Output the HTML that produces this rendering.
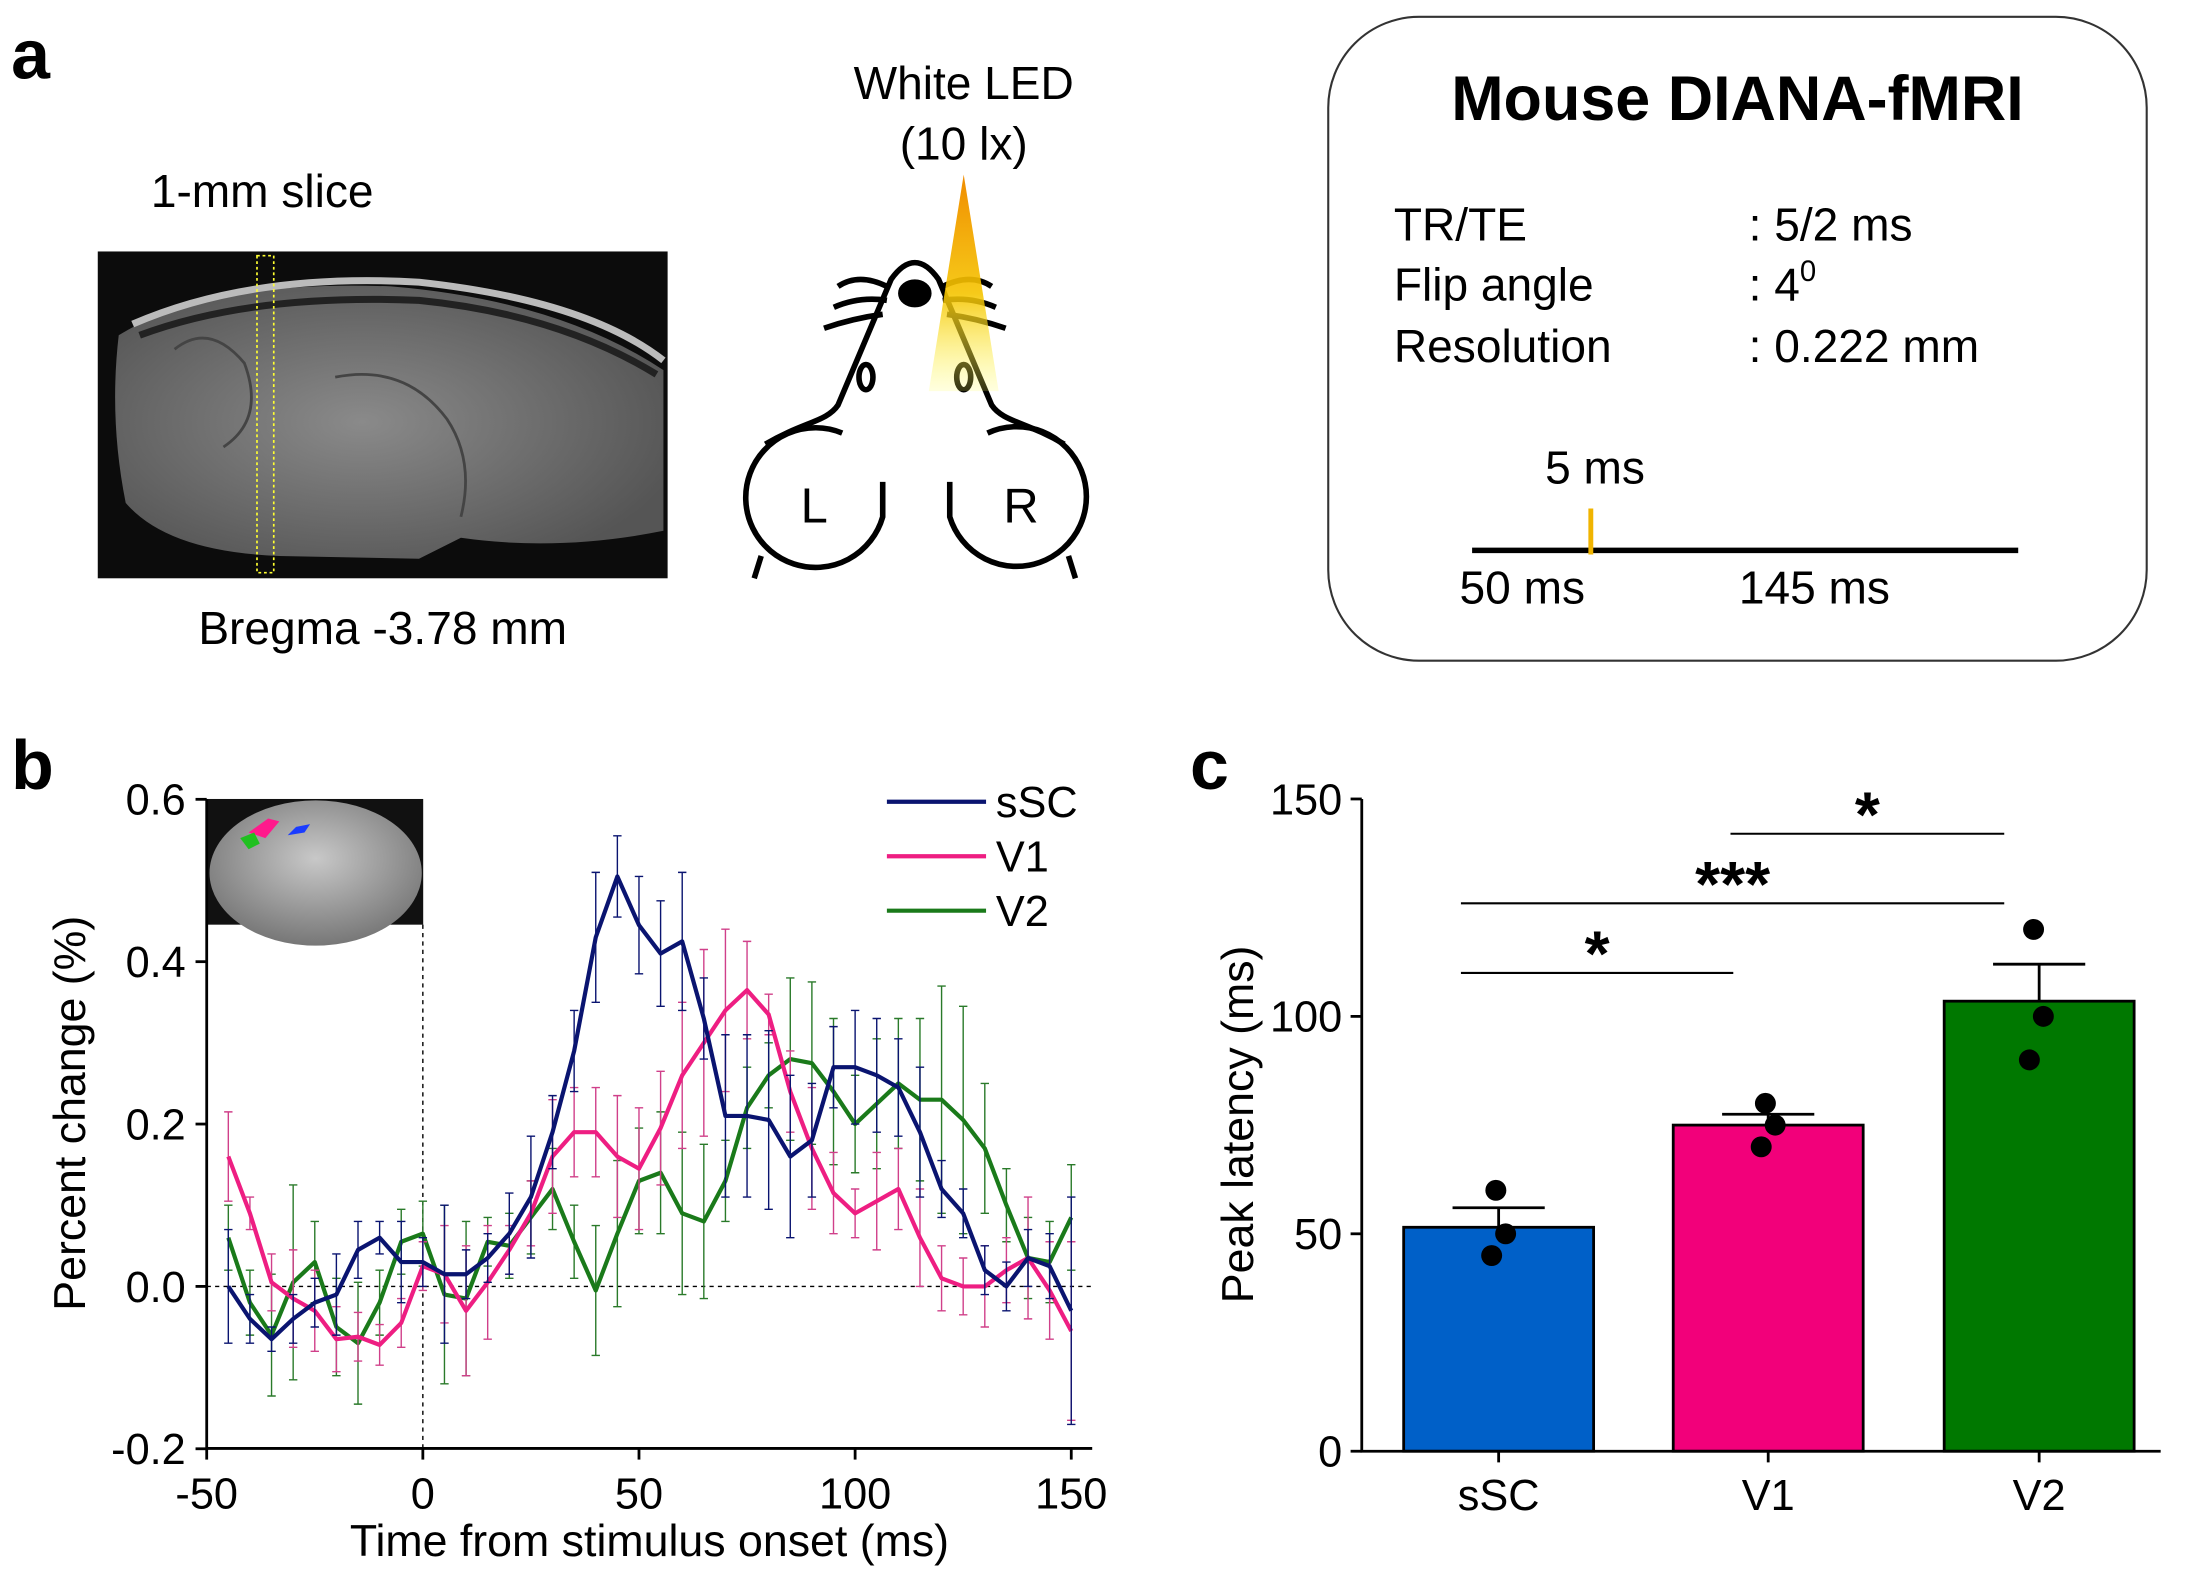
<!DOCTYPE html>
<html><head><meta charset="utf-8"><style>
html,body{margin:0;padding:0;background:#fff;}
svg{display:block;font-family:"Liberation Sans",Arial,sans-serif;}
</style></head><body>
<svg id="fig" width="2190" height="1570" viewBox="0 0 1568 1124">
<defs>
<linearGradient id="cone" x1="0" y1="0" x2="0" y2="1"><stop offset="0" stop-color="#f08c00"/><stop offset="0.55" stop-color="#f5c400" stop-opacity="0.9"/><stop offset="1" stop-color="#ffff60" stop-opacity="0.2"/></linearGradient>
<radialGradient id="brain" cx="0.45" cy="0.5" r="0.6"><stop offset="0" stop-color="#8a8a8a"/><stop offset="1" stop-color="#555"/></radialGradient>
<radialGradient id="inset" cx="0.5" cy="0.4" r="0.6"><stop offset="0" stop-color="#c8c8c8"/><stop offset="1" stop-color="#777"/></radialGradient>
</defs>
<!-- Panel a -->
<text x="8" y="56" font-size="50" font-weight="bold">a</text>
<text x="108" y="148" font-size="33">1-mm slice</text>
<g>
<rect x="70" y="180" width="408" height="234" fill="#0c0c0c"/>
<path d="M85,240 Q150,200 280,205 Q400,215 475,265 L475,380 Q400,395 330,385 L300,400 L200,398 Q120,395 90,360 Q78,300 85,240 Z" fill="url(#brain)"/>
<path d="M95,232 Q180,195 300,202 Q420,215 475,258" stroke="#bbb" stroke-width="5" fill="none"/>
<path d="M100,240 Q180,210 300,215 Q400,225 470,268" stroke="#222" stroke-width="5" fill="none"/>
<path d="M125,250 Q150,230 175,260 Q190,300 160,320" stroke="#444" stroke-width="2" fill="none"/>
<path d="M240,270 Q290,260 320,300 Q340,330 330,370" stroke="#444" stroke-width="2" fill="none"/>
<rect x="184" y="183" width="12" height="227" fill="none" stroke="#ffff30" stroke-width="1.2" stroke-dasharray="2,2"/>
</g>
<text x="274" y="461" font-size="33" text-anchor="middle">Bregma -3.78 mm</text>
<text x="690" y="71" font-size="33" text-anchor="middle">White LED</text>
<text x="690" y="114" font-size="33" text-anchor="middle">(10 lx)</text>
<g fill="none" stroke="#000" stroke-width="4">
<path d="M548,318 C575,302 592,302 600,290 L638,200 Q655,176 672,200 L710,290 C718,302 735,302 762,318"/>
<path d="M632,345 L632,370 A50,50 0 1 1 603,310"/>
<path d="M680,345 L680,370 A50,50 0 1 0 707,310"/>
<path d="M545,398 L540,414 M765,398 L770,414"/>
<path d="M600,205 Q615,195 635,205 M597,220 Q615,212 635,215 M590,235 Q610,228 632,225"/>
<path d="M710,205 Q695,195 675,205 M713,220 Q695,212 675,215 M720,235 Q700,228 678,225"/>
<ellipse cx="655" cy="210" rx="10" ry="8" fill="#000"/>
<ellipse cx="620" cy="270" rx="5" ry="9" stroke-width="4"/>
<ellipse cx="690" cy="270" rx="5" ry="9" stroke-width="4"/>
</g>
<polygon points="690,125 665,280 715,280" fill="url(#cone)"/>
<text x="583" y="374" font-size="35" text-anchor="middle">L</text>
<text x="731" y="374" font-size="35" text-anchor="middle">R</text>
<g>
<rect x="951" y="12" width="586" height="461" rx="65" fill="#fff" stroke="#333" stroke-width="1.5"/>
<text x="1244" y="86" font-size="45" font-weight="bold" text-anchor="middle">Mouse DIANA-fMRI</text>
<g font-size="33">
<text x="998" y="172">TR/TE</text>
<text x="1252" y="172">: 5/2 ms</text>
<text x="998" y="215">Flip angle</text>
<text x="1252" y="215">: 4<tspan font-size="21" dy="-14">0</tspan></text>
<text x="998" y="259">Resolution</text>
<text x="1252" y="259">: 0.222 mm</text>
<text x="1142" y="346" text-anchor="middle">5 ms</text>
<text x="1045" y="432">50 ms</text>
<text x="1245" y="432">145 ms</text>
</g>
<line x1="1054" y1="394" x2="1445" y2="394" stroke="#000" stroke-width="4"/>
<line x1="1139" y1="364" x2="1139" y2="397" stroke="#f0b400" stroke-width="3.5"/>
</g>
<!-- Panel b -->
<text x="8" y="565" font-size="50" font-weight="bold">b</text>
<g id="chartB"></g>
<!-- Panel c -->
<text x="852" y="565" font-size="50" font-weight="bold">c</text>
<g id="chartC"></g>
</svg>
<script>
const NS='http://www.w3.org/2000/svg';
// ---- Panel b data ----
const times=[-45,-40,-35,-30,-25,-20,-15,-10,-5,0,5,10,15,20,25,30,35,40,45,50,55,60,65,70,75,80,85,90,95,100,105,110,115,120,125,130,135,140,145,150];
const sscVals=[0.0,-0.04,-0.065,-0.04,-0.02,-0.01,0.045,0.06,0.03,0.03,0.015,0.015,0.035,0.065,0.11,0.19,0.29,0.43,0.505,0.445,0.41,0.425,0.33,0.21,0.21,0.205,0.16,0.18,0.27,0.27,0.26,0.245,0.19,0.12,0.09,0.02,0.0,0.035,0.025,-0.03];
const sscErr=[0.07,0.03,0.015,0.03,0.03,0.05,0.035,0.02,0.05,0.03,0.085,0.03,0.03,0.05,0.075,0.045,0.05,0.08,0.05,0.06,0.065,0.085,0.05,0.1,0.1,0.11,0.1,0.07,0.05,0.07,0.07,0.06,0.08,0.035,0.03,0.03,0.03,0.035,0.04,0.14];
const v1Vals=[0.16,0.09,0.005,-0.015,-0.03,-0.065,-0.062,-0.072,-0.045,0.025,0.015,-0.03,0.005,0.045,0.09,0.16,0.19,0.19,0.16,0.145,0.195,0.26,0.3,0.34,0.365,0.335,0.24,0.17,0.115,0.09,0.105,0.12,0.06,0.01,0.0,0.0,0.02,0.035,-0.005,-0.055];
const v1Err=[0.055,0.02,0.035,0.06,0.05,0.04,0.03,0.025,0.03,0.03,0.06,0.08,0.07,0.03,0.04,0.07,0.055,0.055,0.075,0.075,0.07,0.09,0.115,0.1,0.06,0.025,0.05,0.075,0.05,0.03,0.06,0.05,0.06,0.04,0.035,0.05,0.04,0.075,0.06,0.11];
const v2Vals=[0.06,-0.02,-0.06,0.005,0.03,-0.05,-0.07,-0.02,0.055,0.065,-0.01,-0.015,0.055,0.05,0.085,0.12,0.055,-0.005,0.065,0.13,0.14,0.09,0.08,0.13,0.22,0.26,0.28,0.275,0.24,0.2,0.225,0.25,0.23,0.23,0.205,0.17,0.1,0.035,0.03,0.085];
const v2Err=[0.04,0.04,0.075,0.12,0.05,0.06,0.075,0.04,0.04,0.04,0.11,0.095,0.03,0.04,0.045,0.05,0.045,0.08,0.09,0.065,0.075,0.1,0.095,0.05,0.05,0.04,0.1,0.1,0.09,0.06,0.08,0.08,0.1,0.14,0.14,0.08,0.045,0.05,0.05,0.065];
const xTicksB=[-50,0,50,100,150];
const yTicksB=[-0.2,0.0,0.2,0.4,0.6];
const yTickLabelsB=['-0.2','0.0','0.2','0.4','0.6'];
const seriesNames=['sSC','V1','V2'];
// ---- Panel c data ----
const barCats=['sSC','V1','V2'];
const barMeans=[51.5,75,103.5];
const barSem=[4.5,2.5,8.5];
const barPoints=[[60,50,45],[80,75,70],[120,100,90]];
const yTicksC=[0,50,100,150];
const sigPairs=[[0,1],[0,2],[1,2]];
const sigLevels=[110,126,142];
const sigLabels=['*','***','*'];

function el(tag,attrs,parent){const e=document.createElementNS(NS,tag);for(const k in attrs)e.setAttribute(k,attrs[k]);parent.appendChild(e);return e;}

// Panel b
const gB=document.getElementById('chartB');
const bx=t=>148+(t+50)*(619/200);
const by=v=>921-v*(465/0.8);
const inset=el('g',{},gB);


el('rect',{x:148,y:572,width:155,height:90,fill:'#111'},inset);
el('ellipse',{cx:226,cy:625,rx:76,ry:52,fill:'url(#inset)'},inset);
el('path',{d:'M178,596 L192,586 L200,588 L190,600 Z',fill:'#ff1a8c'},inset);
el('path',{d:'M172,600 L182,596 L186,604 L178,608 Z',fill:'#20c020'},inset);
el('path',{d:'M206,598 L212,592 L222,590 L218,596 Z',fill:'#1a3cff'},inset);
const z=el('line',{x1:148,y1:by(0),x2:782,y2:by(0),stroke:'#000','stroke-width':1,'stroke-dasharray':'3,3'},gB);


const on=el('line',{x1:bx(0),y1:662,x2:bx(0),y2:1037,stroke:'#000','stroke-width':1,'stroke-dasharray':'3,3'},gB);


const axB=el('path',{d:'M148,572 L148,1037 L782,1037',fill:'none',stroke:'#000','stroke-width':2},gB);


xTicksB.forEach(t=>{
  const tk=el('line',{x1:bx(t),y1:1037,x2:bx(t),y2:1045,stroke:'#000','stroke-width':2},gB);
  
  
  const tx=el('text',{x:bx(t),y:1080,'font-size':31,'text-anchor':'middle'},gB);tx.textContent=String(t);
  
  
});
yTicksB.forEach((v,i)=>{
  const tk=el('line',{x1:140,y1:by(v),x2:148,y2:by(v),stroke:'#000','stroke-width':2},gB);
  
  
  const tx=el('text',{x:133,y:by(v)+11,'font-size':31,'text-anchor':'end'},gB);tx.textContent=yTickLabelsB[i];
  
  
});
const xl=el('text',{x:465,y:1114,'font-size':32,'text-anchor':'middle'},gB);xl.textContent='Time from stimulus onset (ms)';


const yl=el('text',{x:0,y:0,'font-size':32,'text-anchor':'middle',transform:'translate(61,797) rotate(-90)'},gB);yl.textContent='Percent change (%)';


const sColors=['#0a1470','#ee1e82','#1a7a1a'];
const sErrColors=['#0a1470','#d0408a','#2a7a2a'];
const sVals=[sscVals,v1Vals,v2Vals];
const sErrs=[sscErr,v1Err,v2Err];
[2,1,0].forEach(si=>{
  const g=el('g',{},gB);
  
  
  times.forEach((t,i)=>{
    const v=sVals[si][i],e=sErrs[si][i],x=bx(t);
    el('path',{d:`M${x},${by(v-e)} L${x},${by(v+e)} M${x-3},${by(v-e)} L${x+3},${by(v-e)} M${x-3},${by(v+e)} L${x+3},${by(v+e)}`,stroke:sErrColors[si],'stroke-width':1,fill:'none'},g);
  });
  const ln=el('polyline',{points:times.map((t,i)=>bx(t)+','+by(sVals[si][i])).join(' '),fill:'none',stroke:sColors[si],'stroke-width':3,'stroke-linejoin':'round'},g);
  
  
});
seriesNames.forEach((n,i)=>{
  const y=574+i*39;
  const g=el('g',{},gB);
  
  
  el('line',{x1:635,y1:y,x2:706,y2:y,stroke:sColors[i],'stroke-width':3},g);
  const tx=el('text',{x:713,y:y+11,'font-size':31},g);tx.textContent=n;
});

// Panel c
const gC=document.getElementById('chartC');
const cy=v=>1039-v*(467/150);
const cCenters=[1073,1266,1460];
const cColors=['#0060c8','#f2007a','#007800'];
const bw=136;
yTicksC.forEach(v=>{
  const tk=el('line',{x1:967,y1:cy(v),x2:975,y2:cy(v),stroke:'#000','stroke-width':2},gC);
  
  
  const tx=el('text',{x:961,y:cy(v)+11,'font-size':31,'text-anchor':'end'},gC);tx.textContent=String(v);
  
  
});
barCats.forEach((c,i)=>{
  const x=cCenters[i],m=barMeans[i];
  const g=el('g',{},gC);
  
  
  el('rect',{x:x-bw/2,y:cy(m),width:bw,height:cy(0)-cy(m),fill:cColors[i],stroke:'#000','stroke-width':2},g);
  el('path',{d:`M${x},${cy(m)} L${x},${cy(m+barSem[i])} M${x-33},${cy(m+barSem[i])} L${x+33},${cy(m+barSem[i])}`,stroke:'#000','stroke-width':2},g);
  const offs=[-2,5,-5];
  barPoints[i].forEach((p,j)=>{
    const d=el('circle',{cx:x+offs[j]-(i==2?2:0),cy:cy(p),r:7.5,fill:'#000'},g);
    
    
  });
  const tk=el('line',{x1:x,y1:1039,x2:x,y2:1047,stroke:'#000','stroke-width':2},gC);
  
  
  const tx=el('text',{x:x,y:1081,'font-size':31,'text-anchor':'middle'},gC);tx.textContent=c;
  
  
});
const axC=el('path',{d:'M975,572 L975,1039 L1547,1039',fill:'none',stroke:'#000','stroke-width':2},gC);


sigPairs.forEach((p,i)=>{
  const y=cy(sigLevels[i]);
  const x1=cCenters[p[0]]-27,x2=cCenters[p[1]]-25;
  const g=el('g',{},gC);
  
  
  el('line',{x1:x1,y1:y,x2:x2,y2:y,stroke:'#000','stroke-width':1.5},g);
  const tx=el('text',{x:(x1+x2)/2,y:y+2,'font-size':46,'font-weight':'bold','text-anchor':'middle'},g);tx.textContent=sigLabels[i];
});
const ylc=el('text',{x:0,y:0,'font-size':32,'text-anchor':'middle',transform:'translate(897,805) rotate(-90)'},gC);ylc.textContent='Peak latency (ms)';


</script>
</body></html>
